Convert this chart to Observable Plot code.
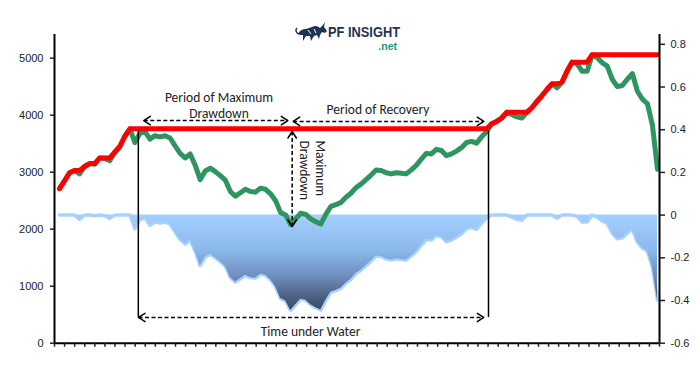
<!DOCTYPE html>
<html><head><meta charset="utf-8">
<script src="https://cdn.jsdelivr.net/npm/d3@7"></script>
<script src="https://cdn.jsdelivr.net/npm/@observablehq/plot@0.6"></script>
<style>
html,body{margin:0;padding:0;background:#fff;}
#wrap{position:relative;width:700px;height:365px;}
</style></head><body>
<div id="wrap"><div id="chart"></div>
<svg id="logo" width="120" height="36" viewBox="0 0 120 36" style="position:absolute;left:294px;top:20px">
  <path d="M4,14 C6,10 9,9 12,9 L18,7 C21,5 24,6 26,8 L29,5 L31,2 L30,7 L33,11 L31,13 L28,12 L26,15 L25,19 L23,15 L20,16 L17,21 L16,16 L12,16 L9,21 L9,15 L6,15 Z" fill="#1f3452"/>
  <path d="M5,14 C2,13 1,10 3,8" fill="none" stroke="#1f3452" stroke-width="1.5"/>
  <path d="M14,10 L17,14 M20,9 L22,13" stroke="#fff" stroke-width="1"/>
  <text x="34" y="17" font-family="Liberation Sans, Arial, sans-serif" font-weight="700" font-size="14.5" fill="#1f3452" textLength="72" lengthAdjust="spacingAndGlyphs">PF INSIGHT</text>
  <text x="103" y="30" text-anchor="end" font-family="Liberation Sans, Arial, sans-serif" font-weight="700" font-size="10.5" fill="#1c9a78">.net</text>
</svg>
</div>
<script>
// ---- data ----
const equity = [
  2710, 2850, 2990, 3030, 2970, 3100, 3150, 3140, 3250, 3240,
  3200, 3350, 3450, 3630, 3760, 3520, 3680, 3710, 3580, 3640,
  3620, 3640, 3600, 3460, 3330, 3250, 3320, 3120, 2870, 3020,
  3070, 3010, 2940, 2860, 2660, 2580, 2640, 2700, 2660, 2650,
  2720, 2700, 2620, 2500, 2290, 2250, 2080, 2180, 2280, 2260,
  2180, 2130, 2090, 2260, 2400, 2430, 2470, 2560, 2630, 2730,
  2790, 2870, 2950, 3040, 3030, 2990, 2970, 2990, 2980, 2970,
  3040, 3120, 3230, 3330, 3320, 3400, 3380, 3290, 3320, 3370,
  3430, 3520, 3540, 3510, 3620, 3710, 3850, 3890, 3950, 4050,
  4010, 3970, 3950, 4050, 4130, 4240, 4340, 4450, 4550, 4480,
  4580, 4770, 4930, 4900, 4770, 4770, 5060, 5010, 4920, 4860,
  4630, 4500, 4520, 4630, 4730, 4420, 4280, 4200, 3820, 3050
];
const periods = d3.range(equity.length);
const leftTicks = [0, 1000, 2000, 3000, 4000, 5000];
const rightTicks = [0.8, 0.6, 0.4, 0.2, 0, -0.2, -0.4, -0.6];

// annotation anchors in data units (period index, left-axis value)
const guideLines = [{p: 15.68, v1: 451, v2: 3720}, {p: 85.37, v1: 451, v2: 3720}];
const spanArrows = [
  {p1: 16.77, p2: 45.43, v1: 3905, v2: 3905},
  {p1: 46.5,  p2: 84.43, v1: 3890, v2: 3890},
  {p1: 46.3,  p2: 46.3,  v1: 3713, v2: 2047},
  {p1: 15.72, p2: 84.43, v1: 451,  v2: 451}
];
const notes = [
  {p: 31.74, v: 4187, text: "Period of Maximum\nDrawdown", rotate: 0, anchor: "middle"},
  {p: 63.38, v: 4117, text: "Period of Recovery", rotate: 0, anchor: "middle"},
  {p: 50.44, v: 3555, text: "Maximum\nDrawdown", rotate: 90, anchor: "start"},
  {p: 49.95, v: 223,  text: "Time under Water", rotate: 0, anchor: "middle"}
];

// ---- derived series ----
let runMax = -Infinity;
const rows = periods.map(i => {
  runMax = Math.max(runMax, equity[i]);
  return {i, equity: equity[i], peak: runMax, dd: equity[i] / runMax - 1};
});

// scales
const xDomain = [-1, 119.4];
const leftDomain = [0, 5415];
const rightDomain = [-0.6, 0.846];
const toLeft = r => (r - rightDomain[0]) / (rightDomain[1] - rightDomain[0]) * (leftDomain[1] - leftDomain[0]) + leftDomain[0];
const fromLeft = v => (v - leftDomain[0]) / (leftDomain[1] - leftDomain[0]) * (rightDomain[1] - rightDomain[0]) + rightDomain[0];
const xTicks = d3.range(61).map(k => xDomain[0] + k * (xDomain[1] - xDomain[0]) / 60);

function chevron(color) {
  const m = d3.create("svg:marker")
    .attr("viewBox", "-9 -6 11 12")
    .attr("markerWidth", 11).attr("markerHeight", 12)
    .attr("markerUnits", "userSpaceOnUse")
    .attr("orient", "auto-start-reverse")
    .attr("overflow", "visible")
    .attr("fill", "none").attr("stroke", color)
    .attr("stroke-width", 1.5).attr("stroke-dasharray", "none")
    .attr("stroke-linecap", "round").attr("stroke-linejoin", "round");
  m.append("path").attr("d", "M-6.5,-4.2L0,0L-6.5,4.2");
  return m.node();
}

const gradientDefs = (index, scales) => {
  const defs = d3.create("svg:defs");
  const g = defs.append("linearGradient").attr("id", "ddGrad")
    .attr("gradientUnits", "userSpaceOnUse")
    .attr("x1", 0).attr("x2", 0)
    .attr("y1", scales.y(toLeft(0))).attr("y2", scales.y(toLeft(-0.46)));
  [[0, "#a3d0fe"], [0.35, "#8cb9ec"], [0.62, "#6f8fbe"], [0.85, "#4b5e80"], [1, "#35445e"]]
    .forEach(([o, c]) => g.append("stop").attr("offset", o).attr("stop-color", c));
  return defs.node();
};

const textFont = "Carlito, Lato, 'Liberation Sans', sans-serif";

const chart = Plot.plot({
  width: 700, height: 365,
  marginLeft: 54, marginRight: 41, marginTop: 34, marginBottom: 22.3,
  x: {domain: xDomain, axis: null},
  y: {domain: leftDomain, axis: null},
  style: {fontFamily: "'Liberation Sans', Arial, sans-serif", fontSize: "11px", color: "#222", background: "#fff", overflow: "visible"},
  marks: [
    gradientDefs,
    Plot.line(rows, {x: "i", y: d => toLeft(d.dd), stroke: "#a8d3ff", strokeWidth: 3.5, strokeLinejoin: "round"}),
    Plot.areaY(rows, {x: "i", y1: toLeft(0), y2: d => toLeft(d.dd), fill: "url(#ddGrad)"}),
    Plot.line(rows, {x: "i", y: "equity", stroke: "#2e9460", strokeWidth: 5, strokeLinejoin: "round", strokeLinecap: "round"}),
    Plot.line(rows, {x: "i", y: "peak", stroke: "#ff0000", strokeWidth: 5, strokeLinejoin: "round", strokeLinecap: "round"}),
    // axes
    Plot.ruleX([xDomain[0], xDomain[1]], {y1: leftDomain[0], y2: leftDomain[1], stroke: "#000", strokeWidth: 2}),
    Plot.ruleY([0], {x1: xDomain[0], x2: xDomain[1], stroke: "#000", strokeWidth: 2}),
    Plot.axisY(leftTicks, {anchor: "left", tickSize: 4, tickPadding: 7, strokeWidth: 1.5, label: null, tickFormat: d => String(d)}),
    Plot.axisY(rightTicks.map(toLeft), {anchor: "right", tickSize: 5, tickPadding: 6, strokeWidth: 1.5, label: null, tickFormat: d => String(+fromLeft(d).toFixed(1))}),
    Plot.axisX(xTicks, {anchor: "bottom", tickSize: 4, strokeWidth: 1.5, label: null, tickFormat: () => ""}),
    // annotations
    Plot.ruleX(guideLines, {x: "p", y1: "v1", y2: "v2", stroke: "#000", strokeWidth: 1.5}),
    Plot.link(spanArrows, {x1: "p1", x2: "p2", y1: "v1", y2: "v2", stroke: "#000", strokeWidth: 1.5, strokeDasharray: "4,2.5", markerStart: chevron, markerEnd: chevron}),
    Plot.text(notes.filter(d => d.rotate === 0), {x: "p", y: "v", text: "text", fontSize: 13.5, fontFamily: textFont, fill: "#222", lineHeight: 1.2, textAnchor: "middle"}),
    Plot.text(notes.filter(d => d.rotate !== 0), {x: "p", y: "v", text: "text", rotate: 90, fontSize: 13.5, fontFamily: textFont, fill: "#222", lineHeight: 1.2, textAnchor: "start"})
  ]
});
document.getElementById("chart").appendChild(chart);
</script>
</body></html>
